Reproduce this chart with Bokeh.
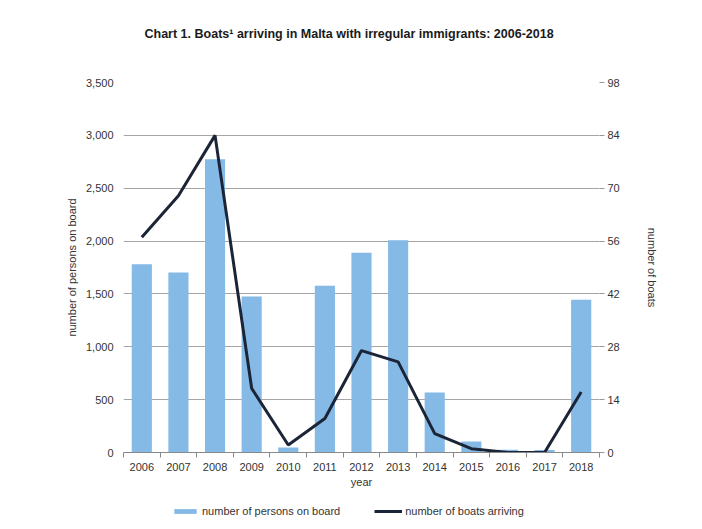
from bokeh.plotting import figure
from bokeh.layouts import column
from bokeh.core.properties import value
from bokeh.models import (ColumnDataSource, Range1d, LinearAxis, FixedTicker,
                          NumeralTickFormatter, Legend, LegendItem)
from bokeh.embed import file_html
from bokeh.resources import INLINE

years = [2006, 2007, 2008, 2009, 2010, 2011, 2012, 2013, 2014, 2015, 2016, 2017, 2018]
persons = [1780, 1702, 2775, 1475, 47, 1577, 1890, 2008, 568, 104, 25, 23, 1445]
boats = [57, 68, 84, 17, 2, 9, 27, 24, 5, 1, 0, 0, 16]
left_ticks = [0, 500, 1000, 1500, 2000, 2500, 3000, 3500]
right_ticks = [0, 14, 28, 42, 56, 70, 84, 98]
series_names = ["number of persons on board", "number of boats arriving"]
title_text = "Chart 1. Boats\u00b9 arriving in Malta with irregular immigrants: 2006-2018"

src = ColumnDataSource(dict(year=years, persons=persons, boats=boats))

FONT = "Liberation Sans"
TXT = "#333333"
BAR_COLOR = "#85b9e6"
LINE_COLOR = "#1c2537"

# ---- title strip ----
tp = figure(width=702, height=72, output_backend="svg", toolbar_location=None,
            x_range=Range1d(0, 476), y_range=Range1d(0, 72),
            min_border=0, x_axis_type=None, y_axis_type=None)
tp.outline_line_color = None
tp.xgrid.grid_line_color = None
tp.ygrid.grid_line_color = None
tp.text(x=[21], y=[39], text=[title_text], text_font=value(FONT),
        text_font_size="12.5px", text_font_style="bold", text_color="#1a1a1a",
        text_align="left", text_baseline="middle")

# ---- main chart ----
p = figure(frame_width=476, frame_height=370, output_backend="svg", toolbar_location=None,
           x_range=Range1d(years[0] - 0.5, years[-1] + 0.5),
           y_range=Range1d(0, 3500),
           min_border_left=123, min_border_right=103, min_border_top=10, min_border_bottom=42)
p.outline_line_color = None
p.background_fill_color = "white"
p.border_fill_color = "white"

p.extra_y_ranges = {"boats": Range1d(0, 98)}

bars = p.vbar(x="year", top="persons", width=0.55, source=src,
              fill_color=BAR_COLOR, line_color=None)
line = p.line(x="year", y="boats", source=src, y_range_name="boats",
              line_color=LINE_COLOR, line_width=3)

# x axis
xa = p.xaxis[0]
xa.ticker = FixedTicker(ticks=years, minor_ticks=[y - 0.5 for y in years] + [years[-1] + 0.5])
xa.major_tick_line_color = None
xa.minor_tick_line_color = "#888888"
xa.minor_tick_out = 5
xa.minor_tick_in = 0
xa.axis_line_color = "#888888"
xa.axis_label = "year"
xa.axis_label_text_font = FONT
xa.axis_label_text_font_size = "11px"
xa.axis_label_text_font_style = "normal"
xa.axis_label_text_color = TXT
xa.axis_label_standoff = 2
xa.major_label_text_font = FONT
xa.major_label_text_font_size = "11px"
xa.major_label_text_color = TXT
xa.major_label_standoff = 4

# left axis
ya = p.yaxis[0]
ya.ticker = FixedTicker(ticks=left_ticks)
ya.formatter = NumeralTickFormatter(format="0,0")
ya.axis_line_color = None
ya.major_tick_line_color = "#999999"
ya.major_tick_out = 0
ya.major_tick_in = 0
ya.minor_tick_line_color = None
ya.major_label_text_font = FONT
ya.major_label_text_font_size = "11px"
ya.major_label_text_color = TXT
ya.major_label_standoff = 10
ya.axis_label = "number of persons on board"
ya.axis_label_text_font = FONT
ya.axis_label_text_font_size = "11px"
ya.axis_label_text_font_style = "normal"
ya.axis_label_text_color = TXT
ya.axis_label_standoff = 5

# right axis
ra = LinearAxis(y_range_name="boats", ticker=FixedTicker(ticks=right_ticks))
ra.axis_line_color = None
ra.major_tick_line_color = "#999999"
ra.major_tick_out = 5
ra.major_tick_in = 0
ra.minor_tick_line_color = None
ra.major_label_text_font = FONT
ra.major_label_text_font_size = "11px"
ra.major_label_text_color = TXT
ra.major_label_standoff = 3
ra.axis_label = "number of boats"
ra.axis_label_text_font = FONT
ra.axis_label_text_font_size = "11px"
ra.axis_label_text_font_style = "normal"
ra.axis_label_text_color = TXT
ra.axis_label_standoff = 23
p.add_layout(ra, "right")

p.xgrid.grid_line_color = None
p.ygrid.ticker = FixedTicker(ticks=left_ticks)
p.ygrid.grid_line_color = "#a6a6a6"
p.ygrid.grid_line_width = 1

# ---- legend strip ----
lg = figure(width=702, height=35, output_backend="svg", toolbar_location=None,
            x_range=Range1d(0, 1), y_range=Range1d(0, 1),
            min_border=0, x_axis_type=None, y_axis_type=None)
lg.outline_line_color = None
lg.xgrid.grid_line_color = None
lg.ygrid.grid_line_color = None
# proxy renderers drawn outside the visible range, used only for legend swatches
lb = lg.vbar(x=[5], top=[5], bottom=[4], width=0.5, fill_color=BAR_COLOR, line_color=None)
ll = lg.line(x=[5, 6], y=[5, 5], line_color=LINE_COLOR, line_width=3)
legend = Legend(items=[LegendItem(label=series_names[0], renderers=[lb]),
                       LegendItem(label=series_names[1], renderers=[ll])],
                orientation="horizontal", location=(48, 12),
                border_line_color=None, background_fill_alpha=0,
                label_text_font=FONT, label_text_font_size="11px", label_text_color=TXT,
                glyph_width=28, glyph_height=6, label_standoff=3, spacing=34,
                padding=2, margin=0)
lg.add_layout(legend, "center")

layout = column(tp, p, lg, spacing=0)
open("out.html", "w").write(file_html(layout, INLINE))
